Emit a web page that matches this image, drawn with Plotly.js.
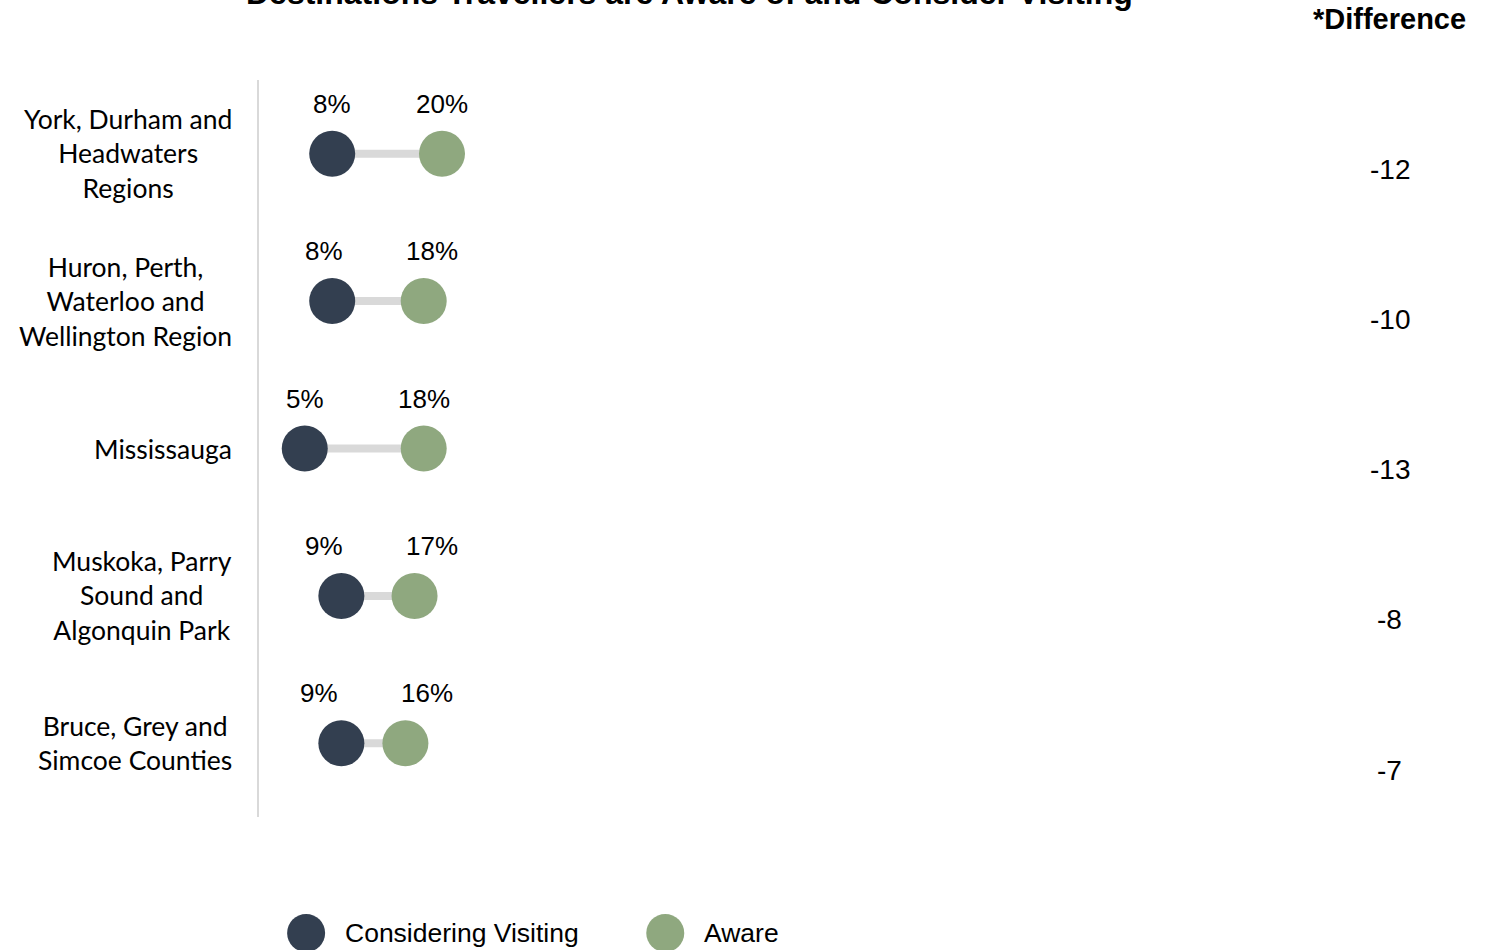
<!DOCTYPE html>
<html>
<head>
<meta charset="utf-8">
<script src="https://cdn.plot.ly/plotly-3.0.1.min.js"></script>
<style>html,body{margin:0;padding:0;background:#fff;}#chart{width:1498px;height:950px;}</style>
</head>
<body>
<div id="chart"></div>
<script>
const categories = [
  "York, Durham and<br>Headwaters<br>Regions",
  "Huron, Perth,<br>Waterloo and<br>Wellington Region",
  "Mississauga",
  "Muskoka, Parry<br>Sound and<br>Algonquin Park",
  "Bruce, Grey and<br>Simcoe Counties"
];
const consideringVisiting = [8, 8, 5, 9, 9];
const aware = [20, 18, 18, 17, 16];
const difference = [-12, -10, -13, -8, -7];
const seriesNames = ["Considering Visiting", "Aware"];
const titleText = "Destinations Travellers are Aware of and Consider Visiting";
const diffHeader = "*Difference";

const DARK = "#333f50";
const GREEN = "#8fa87f";
const GREY = "#d9d9d9";
const catFont = "Lato, sans-serif";
const arial = "Liberation Sans, Arial, sans-serif";

const PX_PER_UNIT = 9.15;   // x-axis pixels per percentage point (915px / 100)
const MIN_LABEL_GAP = 108;  // minimum pixel spacing between the two value labels

// connector line
const lx = [], ly = [];
categories.forEach((c, i) => {
  lx.push(consideringVisiting[i], aware[i], null);
  ly.push(c, c, null);
});

const traces = [
  {type: "scatter", mode: "lines", x: lx, y: ly, line: {color: GREY, width: 8},
   hoverinfo: "skip", showlegend: false, xaxis: "x", yaxis: "y"},
  {type: "scatter", mode: "markers", name: seriesNames[0], x: consideringVisiting, y: categories,
   marker: {color: DARK, size: 46, line: {width: 0}}, showlegend: false, xaxis: "x", yaxis: "y"},
  {type: "scatter", mode: "markers", name: seriesNames[1], x: aware, y: categories,
   marker: {color: GREEN, size: 46, line: {width: 0}}, showlegend: false, xaxis: "x", yaxis: "y"},
  // custom legend
  {type: "scatter", mode: "markers", x: [5.15, 44.4], y: [0.128, 0.128],
   marker: {color: [DARK, GREEN], size: 38, line: {width: 0}}, showlegend: false,
   hoverinfo: "skip", xaxis: "x2", yaxis: "y2", cliponaxis: false}
];

const annotations = [];
// title
annotations.push({xref: "paper", yref: "paper", x: 0.471, y: 1.1, xanchor: "center", yanchor: "middle",
  text: "<b>" + titleText + "</b>", showarrow: false, font: {family: arial, size: 32, color: "#000"}});
annotations.push({xref: "paper", yref: "paper", x: 1.236, y: 1.0701, xanchor: "center", yanchor: "middle",
  text: "<b>" + diffHeader + "</b>", showarrow: false, font: {family: arial, size: 29, color: "#000"}});

categories.forEach((c, i) => {
  annotations.push({xref: "paper", yref: "y", x: -0.0273, y: c, xanchor: "right", yanchor: "middle",
    align: "center", text: c, showarrow: false, font: {family: catFont, size: 26.5, color: "#000"}});
  const gapPx = (aware[i] - consideringVisiting[i]) * PX_PER_UNIT;
  const spread = gapPx < MIN_LABEL_GAP ? (MIN_LABEL_GAP - gapPx) / 2 : 0;
  annotations.push({xref: "x", yref: "y", x: consideringVisiting[i], y: c, yshift: 50, xshift: -spread,
    xanchor: "center", yanchor: "middle", text: consideringVisiting[i] + "%", showarrow: false,
    font: {family: arial, size: 26, color: "#000"}});
  annotations.push({xref: "x", yref: "y", x: aware[i], y: c, yshift: 50, xshift: spread,
    xanchor: "center", yanchor: "middle", text: aware[i] + "%", showarrow: false,
    font: {family: arial, size: 26, color: "#000"}});
  annotations.push({xref: "paper", yref: "y", x: 1.236, y: c, yshift: -(15.3 + 2.85 * i), xanchor: "center",
    yanchor: "middle", text: String(difference[i]), showarrow: false,
    font: {family: arial, size: 28, color: "#000"}});
});

// legend labels
[5.15, 44.4].forEach((xv, i) => {
  annotations.push({xref: "x2", yref: "y2", x: xv, y: 0.128, xshift: 37, xanchor: "left", yanchor: "middle",
    text: seriesNames[i], showarrow: false, font: {family: arial, size: 26.5, color: "#000"}});
});

const layout = {
  width: 1498, height: 950,
  margin: {l: 259, r: 324, t: 80, b: 0, pad: 0},
  paper_bgcolor: "#fff", plot_bgcolor: "#fff",
  showlegend: false,
  xaxis: {range: [0, 100], visible: false, fixedrange: true, domain: [0, 1]},
  yaxis: {type: "category", categoryarray: categories, categoryorder: "array", range: [4.5, -0.5],
    domain: [0.15287, 1], showticklabels: false, showgrid: false, zeroline: false, ticks: "",
    showline: true, linecolor: GREY, linewidth: 2, fixedrange: true},
  xaxis2: {range: [0, 100], visible: false, anchor: "y2", domain: [0, 1]},
  yaxis2: {range: [0, 1], visible: false, anchor: "x2", domain: [0, 0.15287]},
  annotations: annotations
};

Plotly.newPlot("chart", traces, layout, {displayModeBar: false, staticPlot: true});
</script>
</body>
</html>
